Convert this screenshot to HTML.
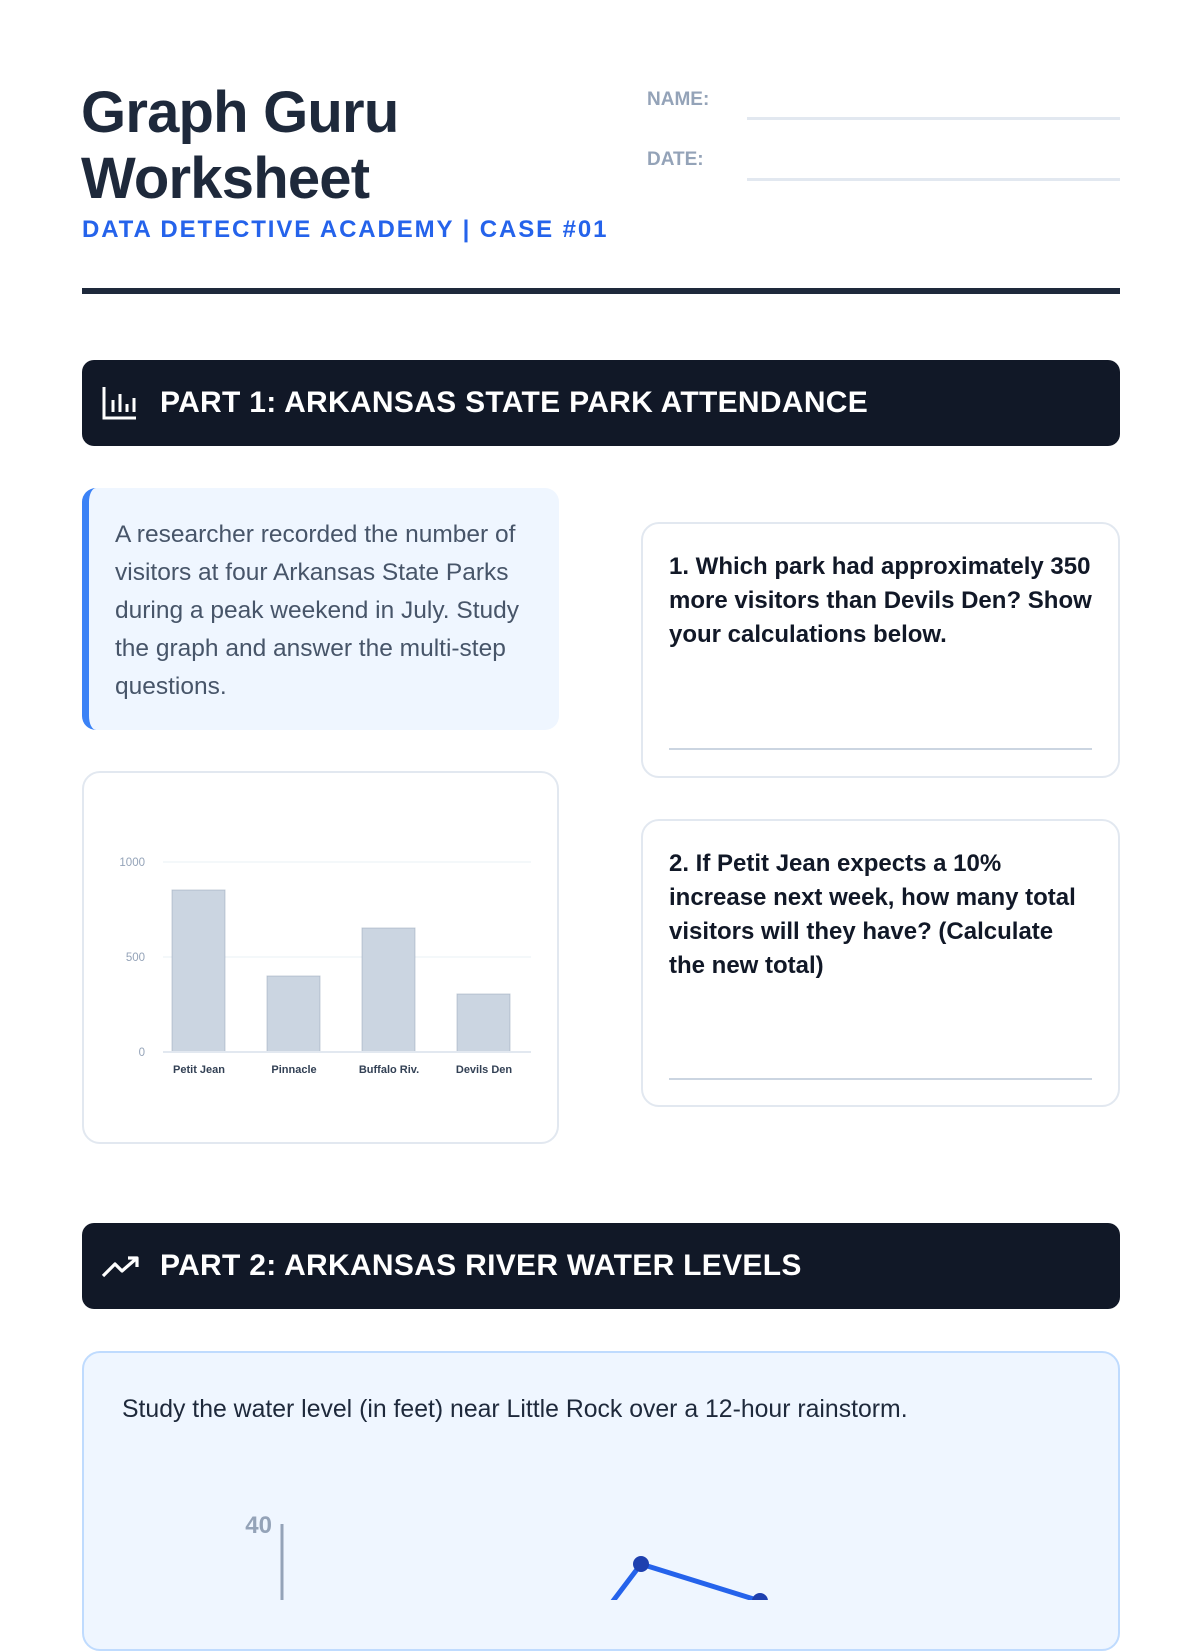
<!DOCTYPE html>
<html><head><meta charset="utf-8">
<style>
*{margin:0;padding:0;box-sizing:border-box}
body{width:1200px;height:1600px;background:#fff;font-family:"Liberation Sans",sans-serif;position:relative;overflow:hidden;color:#1e293b}
.a{position:absolute}
.title{left:81px;top:80px;font-size:58px;font-weight:bold;line-height:66px;letter-spacing:-0.8px;color:#1e293b}
.sub{left:82px;top:216px;font-size:24px;font-weight:bold;letter-spacing:1.9px;color:#2563eb}
.lbl{font-size:19px;font-weight:bold;color:#94a3b8}
.ln{height:3px;background:#e2e8f0}
.bar{left:82px;width:1038px;height:86px;background:#111827;border-radius:12px;color:#fff;font-size:30px;font-weight:bold;line-height:86px;padding-left:78px;letter-spacing:0.3px}
.card{border:2px solid #e2e8f0;border-radius:18px;background:#fff}
.q{font-size:24px;font-weight:bold;line-height:34px;color:#111827;padding:26px 26px 0 26px}
</style></head><body>
<div class="a title">Graph Guru<br>Worksheet</div>
<div class="a sub">DATA DETECTIVE ACADEMY | CASE #01</div>
<div class="a lbl" style="left:647px;top:89px">NAME:</div>
<div class="a ln" style="left:747px;top:117px;width:373px"></div>
<div class="a lbl" style="left:647px;top:149px">DATE:</div>
<div class="a ln" style="left:747px;top:178px;width:373px"></div>
<div class="a" style="left:82px;top:288px;width:1038px;height:6px;background:#1e293b"></div>

<div class="a bar" style="top:360px">PART 1: ARKANSAS STATE PARK ATTENDANCE</div>
<svg class="a" style="left:102px;top:386px" width="36" height="34" viewBox="0 0 36 34" fill="none" stroke="#fff" stroke-width="3"><path d="M2 1V32H34"/><path d="M11 26V14M18 26V8M25 26V18M32 26V12"/></svg>

<div class="a" style="left:82px;top:488px;width:477px;height:242px;background:#eff6ff;border-radius:14px;border-left:7px solid #3b82f6;padding:28px 20px 0 26px;font-size:24.5px;line-height:38px;color:#475569">A researcher recorded the number of visitors at four Arkansas State Parks during a peak weekend in July. Study the graph and answer the multi-step questions.</div>

<div class="a card" style="left:82px;top:771px;width:477px;height:373px"></div>
<svg class="a" style="left:82px;top:771px" width="477" height="373">
<g font-family="Liberation Sans" font-size="11.5" fill="#94a3b8" text-anchor="end">
<text x="63" y="95">1000</text><text x="63" y="190">500</text><text x="63" y="285">0</text></g>
<line x1="81" y1="91" x2="449" y2="91" stroke="#f1f5f9" stroke-width="1.5"/>
<line x1="81" y1="186" x2="449" y2="186" stroke="#f1f5f9" stroke-width="1.5"/>
<g fill="#cbd5e1" stroke="#94a3b8" stroke-opacity="0.5">
<rect x="90" y="119" width="53" height="162"/>
<rect x="185" y="205" width="53" height="76"/>
<rect x="280" y="157" width="53" height="124"/>
<rect x="375" y="223" width="53" height="58"/></g>
<line x1="81" y1="281" x2="449" y2="281" stroke="#e2e8f0" stroke-width="2"/>
<g font-family="Liberation Sans" font-size="11" font-weight="bold" fill="#334155" text-anchor="middle">
<text x="117" y="302">Petit Jean</text><text x="212" y="302">Pinnacle</text><text x="307" y="302">Buffalo Riv.</text><text x="402" y="302">Devils Den</text></g>
</svg>

<div class="a card" style="left:641px;top:522px;width:479px;height:256px"><div class="q">1. Which park had approximately 350 more visitors than Devils Den? Show your calculations below.</div></div>
<div class="a" style="left:669px;top:748px;width:423px;height:2px;background:#cbd5e1"></div>
<div class="a card" style="left:641px;top:819px;width:479px;height:288px"><div class="q">2. If Petit Jean expects a 10% increase next week, how many total visitors will they have? (Calculate the new total)</div></div>
<div class="a" style="left:669px;top:1078px;width:423px;height:2px;background:#cbd5e1"></div>

<div class="a bar" style="top:1223px">PART 2: ARKANSAS RIVER WATER LEVELS</div>
<svg class="a" style="left:101px;top:1254px" width="40" height="26" viewBox="0 0 40 26" fill="none" stroke="#fff" stroke-width="3.2" stroke-linejoin="round"><path d="M2 22L14 10L21 17L36 4"/><path d="M27 4H36V13"/></svg>

<div class="a" style="left:82px;top:1351px;width:1038px;height:300px;background:#eff6ff;border:2px solid #bfdbfe;border-radius:18px"></div>
<div class="a" style="left:122px;top:1396px;font-size:24.8px;color:#1e293b">Study the water level (in feet) near Little Rock over a 12-hour rainstorm.</div>
<svg class="a" style="left:0;top:1500px" width="1200" height="100">
<text x="272" y="33" font-family="Liberation Sans" font-size="24" font-weight="bold" fill="#94a3b8" text-anchor="end">40</text>
<line x1="282" y1="24" x2="282" y2="100" stroke="#94a3b8" stroke-width="3"/>
<polyline points="610,105 641,64 760,101" fill="none" stroke="#2563eb" stroke-width="5"/>
<circle cx="641" cy="64" r="8" fill="#1e40af"/><circle cx="760" cy="101" r="8" fill="#1e40af"/>
</svg>
</body></html>
